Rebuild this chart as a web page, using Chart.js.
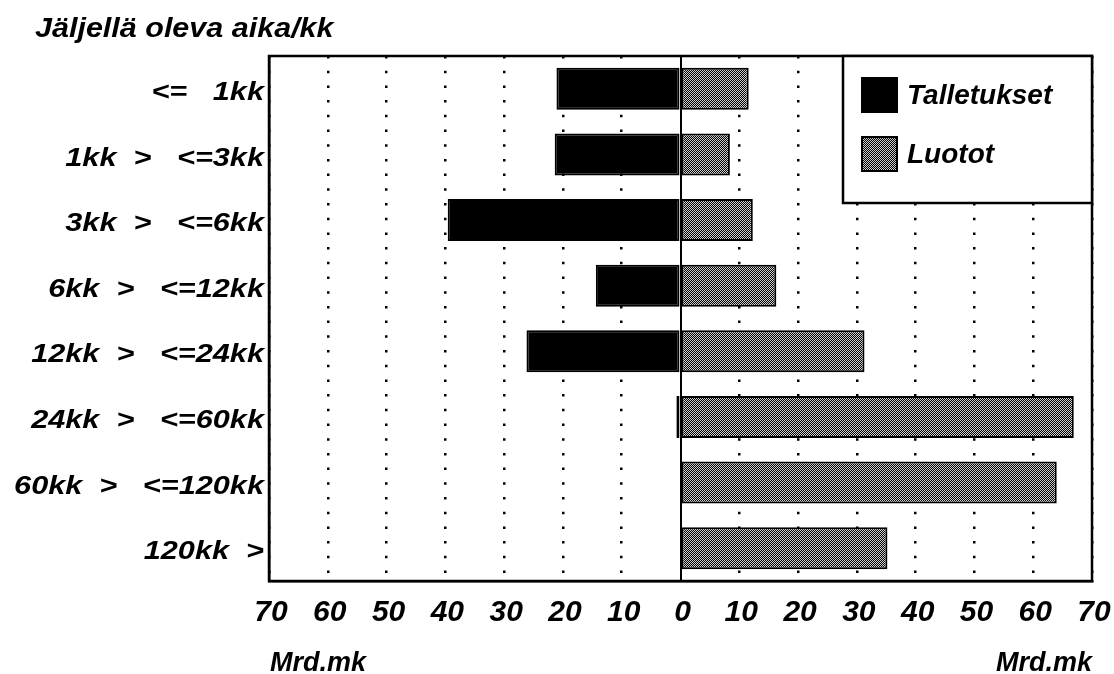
<!DOCTYPE html>
<html>
<head>
<meta charset="utf-8">
<script src="https://cdn.jsdelivr.net/npm/chart.js@4/dist/chart.umd.min.js"></script>
<style>
  html, body { margin: 0; padding: 0; background: #fff; }
  #wrap { width: 1114px; height: 674px; }
</style>
</head>
<body>
<div id="wrap"><canvas id="chart"></canvas></div>
<script>
const categories = ['<=   1kk', '1kk  >   <=3kk', '3kk  >   <=6kk', '6kk  >   <=12kk',
  '12kk  >   <=24kk', '24kk  >   <=60kk', '60kk  >   <=120kk', '120kk  >'];
const talletukset = [-21.1, -21.4, -39.6, -14.4, -26.2, -0.7, 0, 0];
const luotot = [11.6, 8.4, 12.3, 16.3, 31.3, 66.9, 64.0, 35.2];
const xTicks = [-70, -60, -50, -40, -30, -20, -10, 0, 10, 20, 30, 40, 50, 60, 70];

const FONT = '"Liberation Sans", Arial, sans-serif';

// stippled fill like the printed original
let makeStipple = function() {
  const c = document.createElement('canvas');
  c.width = 2; c.height = 2;
  const g = c.getContext('2d');
  g.fillStyle = '#000';
  g.fillRect(0, 0, 2, 2);
  g.fillStyle = '#cfcfcf';
  g.fillRect(0, 0, 1, 1);
  g.fillRect(1, 1, 1, 1);
  return g.createPattern(c, 'repeat');
}
const stipple = makeStipple();

// text stretched horizontally (the scan is wider than it is tall)
let wideText = function(ctx, text, x, y, sx, align) {
  const w = ctx.measureText(text).width * sx;
  let left = x;
  if (align === 'right') left = x - w;
  if (align === 'center') left = x - w / 2;
  ctx.save();
  ctx.translate(left, y);
  ctx.scale(sx, 1);
  ctx.textAlign = 'left';
  ctx.fillText(text, 0, 0);
  ctx.restore();
}

const extras = {
  id: 'extras',
  afterDraw(chart) {
    const ctx = chart.ctx;
    const a = chart.chartArea;
    const xs = chart.scales.x;
    const ys = chart.scales.y;
    ctx.save();
    ctx.strokeStyle = '#000';
    ctx.lineWidth = 2.5;
    ctx.strokeRect(a.left, a.top, a.right - a.left, a.bottom - a.top);

    // legend box
    const lx = 843, ly = a.top, lw = a.right - 843, lh = 147;
    ctx.fillStyle = '#fff';
    ctx.fillRect(lx, ly, lw, lh);
    ctx.strokeRect(lx, ly, lw, lh);
    chart.data.datasets.forEach((ds, i) => {
      const y = 78 + i * 59;
      ctx.fillStyle = ds.backgroundColor;
      ctx.fillRect(862, y, 35, 34);
      ctx.lineWidth = 2;
      ctx.strokeRect(862, y, 35, 34);
      ctx.fillStyle = '#000';
      ctx.font = 'italic bold 28px ' + FONT;
      ctx.textBaseline = 'middle';
      ctx.textAlign = 'left';
      ctx.fillText(ds.label, 907, y + 18);
    });

    // category labels
    ctx.fillStyle = '#000';
    ctx.textBaseline = 'middle';
    ctx.font = 'italic bold 26px ' + FONT;
    chart.data.labels.forEach((lab, i) => {
      wideText(ctx, lab, 264, ys.getPixelForTick(i) + 4, 1.18, 'right');
    });

    // value labels
    ctx.textBaseline = 'top';
    ctx.textAlign = 'center';
    ctx.font = 'italic bold 30px ' + FONT;
    xs.ticks.forEach((t, i) => {
      ctx.fillText(String(Math.abs(t.value)), xs.getPixelForTick(i) + 2, 598);
    });

    ctx.textBaseline = 'alphabetic';
    ctx.font = 'italic bold 27px ' + FONT;
    wideText(ctx, 'Jäljellä oleva aika/kk', 35, 37, 1.13, 'left');
    ctx.textAlign = 'left';
    ctx.fillText('Mrd.mk', 270, 671);
    ctx.textAlign = 'right';
    ctx.fillText('Mrd.mk', 1092, 671);
    ctx.restore();
  }
};

new Chart(document.getElementById('chart'), {
  type: 'bar',
  data: {
    labels: categories,
    datasets: [{
      label: 'Talletukset',
      data: talletukset,
      backgroundColor: '#000',
      borderColor: '#000',
      borderWidth: 2,
      borderSkipped: false
    }, {
      label: 'Luotot',
      data: luotot,
      backgroundColor: stipple,
      borderColor: '#000',
      borderWidth: 2,
      borderSkipped: false
    }]
  },
  options: {
    indexAxis: 'y',
    responsive: true,
    maintainAspectRatio: false,
    animation: false,
    barPercentage: 0.8,
    categoryPercentage: 0.8,
    layout: { padding: { left: 0, top: 56, right: 22, bottom: 0 } },
    plugins: {
      legend: { display: false },
      tooltip: { enabled: false }
    },
    scales: {
      x: {
        stacked: true,
        min: -70,
        max: 70,
        afterBuildTicks: (s) => { s.ticks = xTicks.map(v => ({ value: v })); },
        afterFit: (s) => { s.height = 93; },
        ticks: { display: false },
        grid: {
          drawTicks: false,
          color: '#000',
          lineWidth: (c) => c.tick && c.tick.value === 0 ? 2 : 2.5
        },
        border: {
          color: '#000',
          width: 2.5,
          dash: (c) => c.tick && c.tick.value === 0 ? [] : [2.5, 12.2]
        }
      },
      y: {
        stacked: true,
        afterFit: (s) => { s.width = 269; },
        ticks: { display: false },
        grid: { display: false, drawTicks: false },
        border: { color: '#000', width: 2.5 }
      }
    }
  },
  plugins: [extras]
});
</script>
</body>
</html>
